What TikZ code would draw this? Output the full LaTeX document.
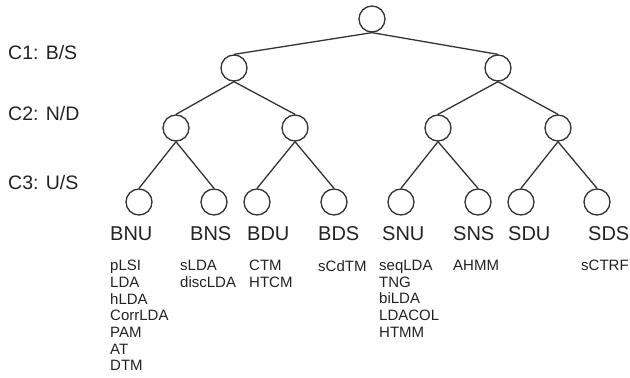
\documentclass[tikz,border=0pt]{standalone}
\usepackage{fontspec}
\setmainfont{Liberation Sans}
\definecolor{ink}{HTML}{333333}
\definecolor{txt}{HTML}{222222}
\begin{document}
\begin{tikzpicture}[x=1pt,y=-1pt,
  tnode/.style={circle,draw=ink,line width=1.3pt,minimum size=26pt,inner sep=0pt},
  edge/.style={draw=ink,line width=1.3pt},
  lvl/.style={anchor=base west,inner sep=0pt,text=txt,font=\fontsize{19.5}{21}\selectfont},
  leaf/.style={anchor=base west,inner sep=0pt,text=txt,font=\fontsize{20}{22}\selectfont},
  models/.style={anchor=north west,inner sep=0pt,align=left,text=txt,font=\fontsize{15}{16.7}\selectfont}]
\useasboundingbox (0,0) rectangle (630,378);
% tree nodes
\node[tnode] (r) at (372,19) {};
\node[tnode] (b) at (234,68) {};
\node[tnode] (s) at (498,68) {};
\node[tnode] (bn) at (176,128) {};
\node[tnode] (bd) at (295,128) {};
\node[tnode] (sn) at (438,128) {};
\node[tnode] (sd) at (558,128) {};
\node[tnode] (bnu) at (139,202) {};
\node[tnode] (bns) at (214,202) {};
\node[tnode] (bdu) at (257,202) {};
\node[tnode] (bds) at (334,202) {};
\node[tnode] (snu) at (401,202) {};
\node[tnode] (sns) at (478,202) {};
\node[tnode] (sdu) at (521,202) {};
\node[tnode] (sds) at (597,202) {};
% edges
\foreach \p/\c in {r/b,r/s,b/bn,b/bd,s/sn,s/sd,bn/bnu,bn/bns,bd/bdu,bd/bds,sn/snu,sn/sns,sd/sdu,sd/sds}
  \draw[edge] (\p.south) -- (\c.north);
% level labels
\node[lvl] (c1) at (8,59) {C1: B/S};
\node[lvl] (c2) at (8,120) {C2: N/D};
\node[lvl] (c3) at (8,189) {C3: U/S};
% leaf labels
\node[leaf] (lbnu) at (110,240) {BNU};
\node[leaf] (lbns) at (190,240) {BNS};
\node[leaf] (lbdu) at (247,240) {BDU};
\node[leaf] (lbds) at (318,240) {BDS};
\node[leaf] (lsnu) at (382,240) {SNU};
\node[leaf] (lsns) at (453,240) {SNS};
\node[leaf] (lsdu) at (508,240) {SDU};
\node[leaf] (lsds) at (588,240) {SDS};
% model lists
\node[models] (mbnu) at (110,260) {pLSI\\LDA\\hLDA\\CorrLDA\\PAM\\AT\\DTM};
\node[models] (mbns) at (180,260) {sLDA\\discLDA};
\node[models] (mbdu) at (249,260) {CTM\\HTCM};
\node[models] (mbds) at (318,260) {sCdTM};
\node[models] (msnu) at (379,260) {seqLDA\\TNG\\biLDA\\LDACOL\\HTMM};
\node[models] (msns) at (453,260) {AHMM};
\node[models] (msds) at (581,260) {sCTRF};
\end{tikzpicture}
\end{document}
